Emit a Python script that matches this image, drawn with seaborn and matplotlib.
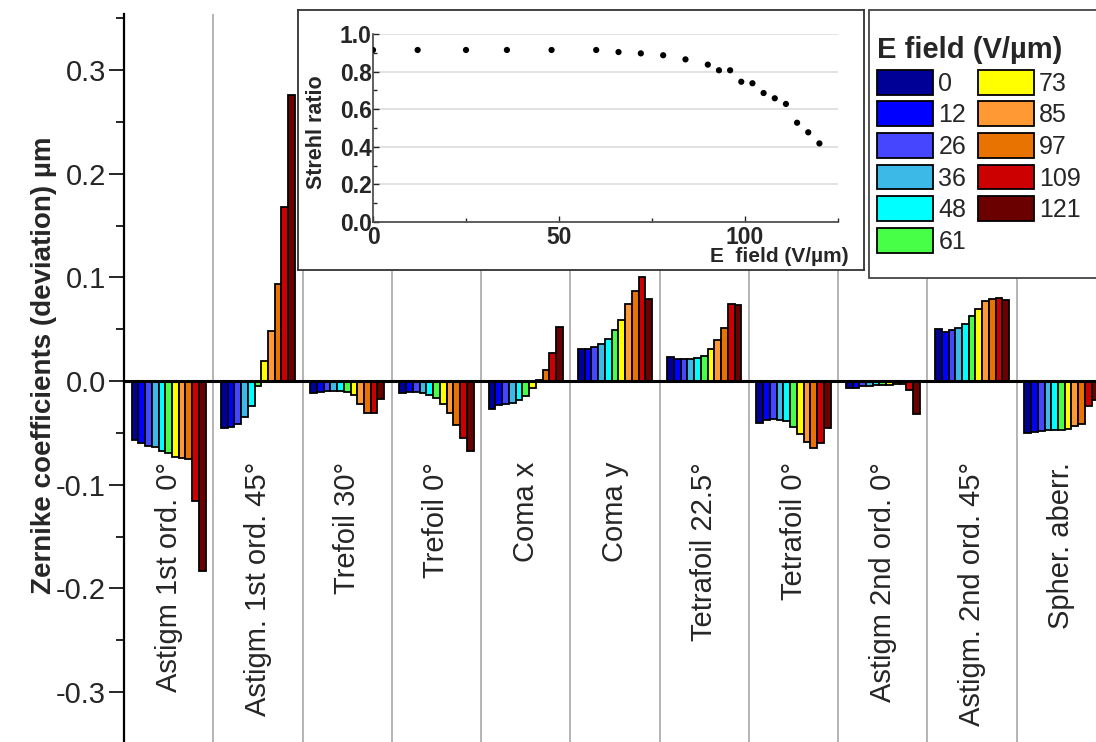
import matplotlib
matplotlib.use("Agg")
import matplotlib.pyplot as plt
from matplotlib.patches import Patch, Rectangle
from matplotlib.ticker import MultipleLocator, FormatStrFormatter
import seaborn as sns
import pandas as pd

# Zernike aberration names (x categories)
aberrations = ["Astigm 1st ord. 0°", "Astigm. 1st ord. 45°", "Trefoil 30°", "Trefoil 0°",
               "Coma x", "Coma y", "Tetrafoil 22.5°", "Tetrafoil 0°",
               "Astigm 2nd ord. 0°", "Astigm. 2nd ord. 45°", "Spher. aberr."]

# E field values (V/um), one bar per field in each group
fields = ["0", "12", "26", "36", "48", "61", "73", "85", "97", "109", "121"]
field_colors = ["#000096", "#0000FF", "#4646FF", "#3CB9E6", "#00FFFF", "#46FF46",
                "#FFFF00", "#FF9933", "#E87300", "#CC0000", "#6B0000"]

# coefficient deviations (um) per aberration, ordered by field
astig1_0 = [-0.057, -0.060, -0.063, -0.064, -0.067, -0.069, -0.073, -0.074, -0.075, -0.116, -0.183]
astig1_45 = [-0.045, -0.044, -0.041, -0.035, -0.024, -0.005, 0.019, 0.048, 0.094, 0.168, 0.276]
trefoil30 = [-0.012, -0.011, -0.010, -0.010, -0.010, -0.011, -0.013, -0.022, -0.031, -0.031, -0.017]
trefoil0 = [-0.012, -0.011, -0.011, -0.012, -0.013, -0.016, -0.022, -0.031, -0.042, -0.055, -0.067]
coma_x = [-0.027, -0.023, -0.022, -0.021, -0.018, -0.014, -0.007, 0.001, 0.011, 0.027, 0.052]
coma_y = [0.031, 0.031, 0.033, 0.036, 0.041, 0.049, 0.059, 0.074, 0.087, 0.100, 0.079]
tetrafoil22 = [0.023, 0.021, 0.021, 0.021, 0.022, 0.024, 0.031, 0.040, 0.051, 0.074, 0.073]
tetrafoil0 = [-0.040, -0.038, -0.037, -0.038, -0.039, -0.044, -0.051, -0.059, -0.065, -0.060, -0.045]
astig2_0 = [-0.007, -0.007, -0.005, -0.0045, -0.004, -0.004, -0.004, -0.003, -0.003, -0.009, -0.032]
astig2_45 = [0.050, 0.047, 0.049, 0.051, 0.055, 0.063, 0.069, 0.077, 0.079, 0.080, 0.078]
spher = [-0.050, -0.049, -0.048, -0.047, -0.047, -0.047, -0.046, -0.043, -0.041, -0.024, -0.018]

# inset: Strehl ratio vs field
strehl_field = [0, 12, 25, 36, 48, 60, 66, 72, 78, 84, 90, 93, 96, 99, 102, 105, 108, 111, 114, 117, 120]
strehl = [0.915, 0.915, 0.915, 0.915, 0.915, 0.915, 0.904, 0.897, 0.887, 0.865, 0.837,
          0.807, 0.807, 0.746, 0.738, 0.686, 0.658, 0.628, 0.528, 0.477, 0.418]

all_values = [astig1_0, astig1_45, trefoil30, trefoil0, coma_x, coma_y,
              tetrafoil22, tetrafoil0, astig2_0, astig2_45, spher]
rows = []
for name, vals in zip(aberrations, all_values):
    for f, v in zip(fields, vals):
        rows.append({"aberration": name, "field": f, "value": v})
df = pd.DataFrame(rows)

sns.set_style("white")
plt.rcParams["font.family"] = ["Liberation Sans", "DejaVu Sans"]
plt.rcParams["axes.unicode_minus"] = False

fig = plt.figure(figsize=(10.96, 7.42), dpi=100)
W, H = 1096, 742

# main axes (extends a little past the right and bottom edge, like the original crop)
ax = fig.add_axes([124 / W, 1 - 754.3 / H, 982 / W, 740.3 / H])
for i in range(len(aberrations) - 1):
    ax.axvline(i + 0.5, color="#a8a8a8", lw=1.2, zorder=0)
sns.barplot(data=df, x="aberration", y="value", hue="field", hue_order=fields,
            order=aberrations, palette=field_colors, saturation=1, width=0.83, gap=0,
            edgecolor="black", linewidth=1.3, errorbar=None, legend=False, ax=ax, zorder=2)
ax.axhline(0, color="black", lw=2.2, zorder=3)
ax.set_xlim(-0.5, 10.5)
ax.set_ylim(-0.36, 0.354)

for i, name in enumerate(aberrations):
    ax.text(i, -0.078, name, rotation=90, ha="center", va="top", fontsize=21)

ax.tick_params(axis="x", bottom=False, labelbottom=False)
ax.set_xlabel("")
ax.yaxis.set_major_locator(MultipleLocator(0.1))
ax.yaxis.set_minor_locator(MultipleLocator(0.05))
ax.yaxis.set_major_formatter(FormatStrFormatter("%.1f"))
ax.tick_params(axis="y", which="major", left=True, direction="out", length=11, width=1.4, labelsize=21, pad=2)
ax.tick_params(axis="y", which="minor", left=True, direction="out", length=6, width=1.4)
ax.set_ylabel("Zernike coefficients (deviation) µm", fontsize=20, fontweight="bold")
ax.yaxis.set_label_coords(-0.068, 0.526)
for s in ["top", "right", "bottom"]:
    ax.spines[s].set_visible(False)
ax.spines["left"].set_color("black")
ax.spines["left"].set_linewidth(1.6)

# inset frame
box = fig.add_axes([298 / W, 1 - 270 / H, 566 / W, 260 / H])
box.set_xticks([])
box.set_yticks([])
box.set_facecolor("white")
for s in box.spines.values():
    s.set_color("#333333")
    s.set_linewidth(1.3)

# inset axes
iax = fig.add_axes([373 / W, 1 - 222 / H, 465 / W, 188 / H])
iax.set_facecolor("none")
sns.scatterplot(x=strehl_field, y=strehl, color="black", s=20, edgecolor="none", ax=iax, zorder=3)
iax.set_xlim(0, 125)
iax.set_ylim(0, 1.0)
iax.xaxis.set_major_locator(MultipleLocator(50))
iax.xaxis.set_minor_locator(MultipleLocator(25))
iax.yaxis.set_major_locator(MultipleLocator(0.2))
iax.yaxis.set_minor_locator(MultipleLocator(0.1))
iax.yaxis.set_major_formatter(FormatStrFormatter("%.1f"))
iax.grid(axis="y", color="#dddddd", lw=1.2)
iax.tick_params(axis="both", which="major", length=4, width=1, direction="in", labelsize=16.5)
iax.tick_params(axis="both", which="minor", length=3, width=1, direction="in")
iax.tick_params(axis="x", which="both", bottom=True, pad=3)
iax.tick_params(axis="y", which="both", left=True, pad=1)
for lab in iax.get_xticklabels() + iax.get_yticklabels():
    lab.set_fontweight("bold")
iax.set_xlabel("E  field (V/µm)", fontsize=15, fontweight="bold", ha="right")
iax.xaxis.set_label_coords(1.022, -0.135)
iax.set_ylabel("Strehl ratio", fontsize=15.5, fontweight="bold")
iax.yaxis.set_label_coords(-0.099, 0.48)
for s in ["top", "right"]:
    iax.spines[s].set_visible(False)
for s in ["left", "bottom"]:
    iax.spines[s].set_color("#444444")
    iax.spines[s].set_linewidth(1.2)

# legend box drawn separately so the padding can be matched
fig.add_artist(Rectangle((869 / W, 1 - 278 / H), 240 / W, 268 / H, transform=fig.transFigure,
                         facecolor="white", edgecolor="#444444", linewidth=1.3, zorder=4))
handles = [Patch(facecolor=c, edgecolor="black", linewidth=1.3) for c in field_colors]
leg = fig.legend(handles, fields, ncol=2, title="E field (V/µm)", loc="upper left",
                 bbox_to_anchor=(877 / W, 1 - 36 / H), borderaxespad=0, borderpad=0,
                 frameon=False, fontsize=18,
                 title_fontproperties={"weight": "bold", "size": 21}, alignment="left",
                 handlelength=2.25, handleheight=1.15, labelspacing=0.23,
                 columnspacing=0.45, handletextpad=0.2)
leg.set_zorder(5)

fig.savefig("out.png", dpi=100)
